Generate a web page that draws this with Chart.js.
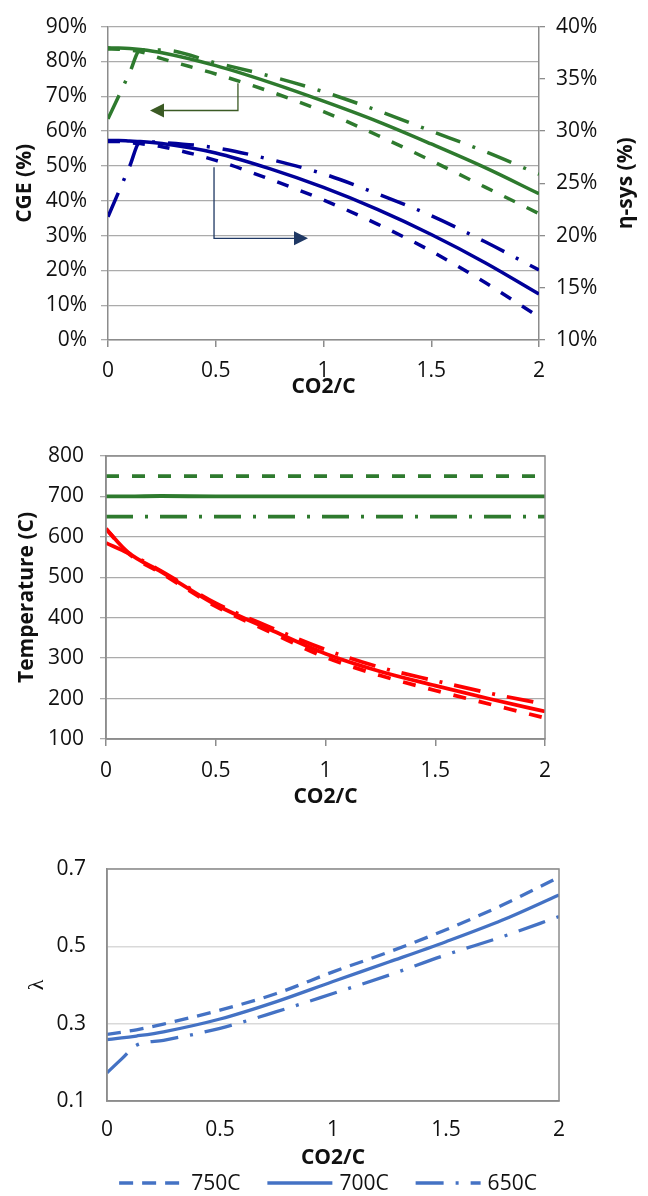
<!DOCTYPE html>
<html>
<head>
<meta charset="utf-8">
<script src="https://cdn.jsdelivr.net/npm/chart.js@4.4.1/dist/chart.umd.min.js"></script>
<style>
  body { margin: 0; background: #fff; width: 648px; height: 1196px; position: relative; overflow: hidden; }
  canvas { position: absolute; left: 0; }
</style>
</head>
<body>
<canvas id="top" width="648" height="400" style="top:0px"></canvas>
<canvas id="mid" width="648" height="410" style="top:400px"></canvas>
<canvas id="bot" width="648" height="386" style="top:810px"></canvas>
<script>
// ---- data ----
const seriesNames = ['750C', '700C', '650C'];

// top panel: CGE on the left axis, eta-sys on the right axis
const xTop = [0, 0.05, 0.1, 0.15, 0.25, 0.5, 0.75, 1, 1.25, 1.5, 1.75, 2];
const cge750 = [83.6, 83.5, 83.2, 82.8, 80.8, 76.4, 71.4, 65.6, 58.8, 51.5, 43.9, 36.3];
const cge700 = [83.9, 83.85, 83.7, 83.4, 82.5, 78.8, 74.0, 68.6, 62.8, 56.3, 49.5, 42.0];
const cge650 = [63.5, 70.1, 76.7, 83.3, 83.3, 79.6, 75.8, 71.3, 65.9, 60.0, 54.1, 47.6];
const eta750 = [29.0, 29.0, 28.9, 28.8, 28.5, 27.2, 25.4, 23.4, 21.1, 18.5, 15.5, 12.2];
const eta700 = [29.1, 29.1, 29.05, 29.0, 28.8, 27.9, 26.4, 24.6, 22.5, 20.1, 17.4, 14.4];
const eta650 = [21.8, 24.2, 26.6, 29.0, 28.9, 28.4, 27.3, 25.9, 24.0, 21.9, 19.4, 16.7];
// arrows pointing to the axis each group belongs to (values on the left axis)
const arrowCgeX = [0.603, 0.603, 0.195];
const arrowCgeY = [73.7, 65.9, 65.9];
const arrowEtaX = [0.492, 0.492, 0.928];
const arrowEtaY = [49.6, 29.2, 29.2];

// middle panel: temperatures
const xMid = [0, 0.1, 0.25, 0.5, 0.75, 1, 1.25, 1.5, 1.75, 2];
const tGas750 = [750, 750, 750, 750, 750, 750, 750, 750, 750, 750];
const tGas700 = [700, 700, 701, 700, 700, 700, 700, 700, 700, 700];
const tGas650 = [650, 650, 650, 650, 650, 650, 650, 650, 650, 650];
const tOut750 = [620, 560, 511, 428, 364, 302, 257, 220, 186, 152];
const tOut700 = [620, 562, 514, 432, 370, 311, 267, 232, 199, 168];
const tOut650 = [585, 560, 516, 436, 376, 321, 277, 244, 213, 186];

// bottom panel: lambda
const xBot = [0, 0.065, 0.13, 0.25, 0.5, 0.75, 1, 1.25, 1.5, 1.75, 2];
const lam750 = [0.272, 0.278, 0.284, 0.299, 0.335, 0.378, 0.434, 0.486, 0.543, 0.607, 0.679];
const lam700 = [0.259, 0.263, 0.268, 0.279, 0.312, 0.357, 0.409, 0.460, 0.512, 0.568, 0.633];
const lam650 = [0.173, 0.209, 0.244, 0.257, 0.288, 0.331, 0.378, 0.426, 0.478, 0.525, 0.577];

// ---- styles ----
const GREEN = '#2e7a2e', NAVY = '#000099', RED = '#ff0000', BLUE = '#4472c4';
const tickFont = { family: 'Open Sans', size: 21 };
const titleFont = { family: 'Open Sans', size: 21, weight: 'bold' };
const TXT = '#111';

function line(xs, ys, color, dash, width, axis) {
  return {
    data: xs.map((x, i) => ({ x: x, y: ys[i] })),
    borderColor: color,
    borderDash: dash,
    borderWidth: width,
    pointRadius: 0,
    fill: false,
    cubicInterpolationMode: 'monotone',
    yAxisID: axis || 'y'
  };
}

function xAxis(height, tickLen, pad, drawTicks) {
  return {
    type: 'linear', min: 0, max: 2,
    afterFit: s => { s.height = height; },
    ticks: { stepSize: 0.5, font: tickFont, color: TXT, padding: pad, maxRotation: 0, callback: v => String(v) },
    grid: { drawOnChartArea: false, drawTicks: drawTicks, tickLength: tickLen, color: '#8c8c8c', lineWidth: 1.5 },
    border: { color: '#8c8c8c', width: 1.5 },
    title: { display: true, text: 'CO2/C', font: titleFont, color: TXT, padding: { top: 0, bottom: 0 } }
  };
}

function arrowPlugin(id, xs, ys, color) {
  return {
    id: id,
    afterDatasetsDraw(chart) {
      const sx = chart.scales.x, sy = chart.scales.y, ctx = chart.ctx;
      const pts = xs.map((x, i) => [sx.getPixelForValue(x), sy.getPixelForValue(ys[i])]);
      const a = pts[pts.length - 2], b = pts[pts.length - 1];
      const ang = Math.atan2(b[1] - a[1], b[0] - a[0]);
      const L = 14, W = 7;
      ctx.save();
      ctx.strokeStyle = color;
      ctx.lineWidth = 1.3;
      ctx.beginPath();
      pts.forEach((p, i) => {
        if (i === pts.length - 1) ctx.lineTo(p[0] - L * Math.cos(ang), p[1] - L * Math.sin(ang));
        else if (i) ctx.lineTo(p[0], p[1]);
        else ctx.moveTo(p[0], p[1]);
      });
      ctx.stroke();
      ctx.fillStyle = color;
      ctx.beginPath();
      ctx.moveTo(b[0], b[1]);
      ctx.lineTo(b[0] - L * Math.cos(ang) + W * Math.sin(ang), b[1] - L * Math.sin(ang) - W * Math.cos(ang));
      ctx.lineTo(b[0] - L * Math.cos(ang) - W * Math.sin(ang), b[1] - L * Math.sin(ang) + W * Math.cos(ang));
      ctx.closePath();
      ctx.fill();
      ctx.restore();
    }
  };
}

const rightTitle = {
  id: 'rightTitle',
  afterDraw(chart) {
    const ctx = chart.ctx, a = chart.chartArea;
    ctx.save();
    ctx.translate(626, (a.top + a.bottom) / 2);
    ctx.rotate(-Math.PI / 2);
    ctx.font = 'bold 21px "Open Sans"';
    ctx.fillStyle = TXT;
    ctx.textAlign = 'center';
    ctx.textBaseline = 'middle';
    ctx.fillText('\u03b7-sys (%)', 0, 0);
    ctx.restore();
  }
};

const frame = {
  id: 'frame',
  afterDatasetsDraw(chart) {
    const ctx = chart.ctx, a = chart.chartArea;
    ctx.save();
    ctx.strokeStyle = '#8c8c8c';
    ctx.lineWidth = 1.5;
    ctx.strokeRect(a.left, a.top, a.right - a.left, a.bottom - a.top);
    ctx.restore();
  }
};

const lineLegend = {
  id: 'lineLegend',
  afterDraw(chart) {
    const ctx = chart.ctx, y = 373, lineLen = 65, gap = 7, space = 27;
    ctx.save();
    ctx.font = '21px "Open Sans"';
    const widths = chart.data.datasets.map(d => ctx.measureText(d.label).width);
    const total = widths.reduce((s, w) => s + lineLen + gap + w, 0) + space * (widths.length - 1);
    let x = 328 - total / 2;
    chart.data.datasets.forEach((d, i) => {
      ctx.strokeStyle = d.borderColor;
      ctx.lineWidth = d.borderWidth;
      ctx.setLineDash(d.borderDash);
      ctx.beginPath();
      ctx.moveTo(x, y);
      ctx.lineTo(x + lineLen, y);
      ctx.stroke();
      ctx.setLineDash([]);
      ctx.fillStyle = TXT;
      ctx.textBaseline = 'middle';
      ctx.textAlign = 'left';
      ctx.fillText(d.label, x + lineLen + gap, y + 1);
      x += lineLen + gap + widths[i] + space;
    });
    ctx.restore();
  }
};

const common = {
  responsive: false,
  animation: false,
  events: []
};

// ---- top chart ----
const topSets = [
  line(xTop, cge750, GREEN, [12, 13], 3.5),
  line(xTop, cge700, GREEN, [], 3.5),
  line(xTop, cge650, GREEN, [26, 13, 3, 13], 3.5),
  line(xTop, eta750, NAVY, [12, 13], 3.5, 'y1'),
  line(xTop, eta700, NAVY, [], 3.5, 'y1'),
  line(xTop, eta650, NAVY, [26, 13, 3, 13], 3.5, 'y1')
];
topSets.forEach((d, i) => { d.label = seriesNames[i % 3]; });

new Chart(document.getElementById('top'), {
  type: 'line',
  data: { datasets: topSets },
  options: Object.assign({}, common, {
    layout: { padding: { top: 19, left: 0, right: 0, bottom: 0 } },
    plugins: { legend: { display: false }, tooltip: { enabled: false } },
    scales: {
      x: xAxis(60, 7, 11, true),
      y: {
        min: 0, max: 90,
        afterFit: s => { s.width = 108; },
        ticks: { stepSize: 10, font: tickFont, color: TXT, padding: 14, callback: v => v + '%' },
        grid: { color: '#ababab', lineWidth: 1.3, tickLength: 7 },
        border: { color: '#8c8c8c', width: 1.5 },
        title: { display: true, text: 'CGE (%)', font: titleFont, color: TXT, padding: { top: 12, bottom: 0 } }
      },
      y1: {
        position: 'right', min: 10, max: 40,
        afterFit: s => { s.width = 109; },
        ticks: { stepSize: 5, font: tickFont, color: TXT, padding: 11, callback: v => v + '%' },
        grid: { drawOnChartArea: false, color: '#8c8c8c', lineWidth: 1.3, tickLength: 6 },
        border: { color: '#8c8c8c', width: 1.5 }
      }
    }
  }),
  plugins: [
    rightTitle,
    arrowPlugin('arrowCge', arrowCgeX, arrowCgeY, '#3b5a24'),
    arrowPlugin('arrowEta', arrowEtaX, arrowEtaY, '#1f3864')
  ]
});

// ---- middle chart ----
const midSets = [
  line(xMid, tGas750, GREEN, [13, 13], 3.8),
  line(xMid, tGas700, GREEN, [], 3.8),
  line(xMid, tGas650, GREEN, [27, 12, 3, 12], 3.8),
  line(xMid, tOut750, RED, [13, 13], 3.8),
  line(xMid, tOut700, RED, [], 3.8),
  line(xMid, tOut650, RED, [27, 12, 3, 12], 3.8)
];
midSets.forEach((d, i) => { d.label = seriesNames[i % 3]; });

new Chart(document.getElementById('mid'), {
  type: 'line',
  data: { datasets: midSets },
  options: Object.assign({}, common, {
    layout: { padding: { top: 56, left: 0, right: 103, bottom: 0 } },
    plugins: { legend: { display: false }, tooltip: { enabled: false } },
    scales: {
      x: xAxis(71, 7, 12, true),
      y: {
        min: 100, max: 800,
        afterFit: s => { s.width = 106; },
        ticks: { stepSize: 100, font: tickFont, color: TXT, padding: 16 },
        grid: { color: '#ababab', lineWidth: 1.3, tickLength: 6 },
        border: { color: '#8c8c8c', width: 1.5 },
        title: { display: true, text: 'Temperature (C)', font: titleFont, color: TXT, padding: { top: 14, bottom: 0 } }
      }
    }
  }),
  plugins: [frame]
});

// ---- bottom chart ----
const botSets = [
  line(xBot, lam750, BLUE, [14, 9], 3.3),
  line(xBot, lam700, BLUE, [], 3.3),
  line(xBot, lam650, BLUE, [28, 12, 3, 12], 3.3)
];
botSets.forEach((d, i) => { d.label = seriesNames[i]; });

new Chart(document.getElementById('bot'), {
  type: 'line',
  data: { datasets: botSets },
  options: Object.assign({}, common, {
    layout: { padding: { top: 59, left: 0, right: 89, bottom: 25 } },
    plugins: { legend: { display: false }, tooltip: { enabled: false } },
    scales: {
      x: xAxis(70, 0, 16, false),
      y: {
        min: 0.1, max: 0.7,
        afterFit: s => { s.width = 107; },
        ticks: { stepSize: 0.2, font: tickFont, color: TXT, padding: 21, callback: v => v.toFixed(1) },
        grid: { color: '#d9d9d9', lineWidth: 1.5, drawTicks: false },
        border: { color: '#8c8c8c', width: 1.5 },
        title: { display: true, text: '\u03bb', font: { family: 'Liberation Serif', size: 22 }, color: TXT, padding: { top: 24, bottom: 0 } }
      }
    }
  }),
  plugins: [frame, lineLegend]
});
</script>
</body>
</html>
